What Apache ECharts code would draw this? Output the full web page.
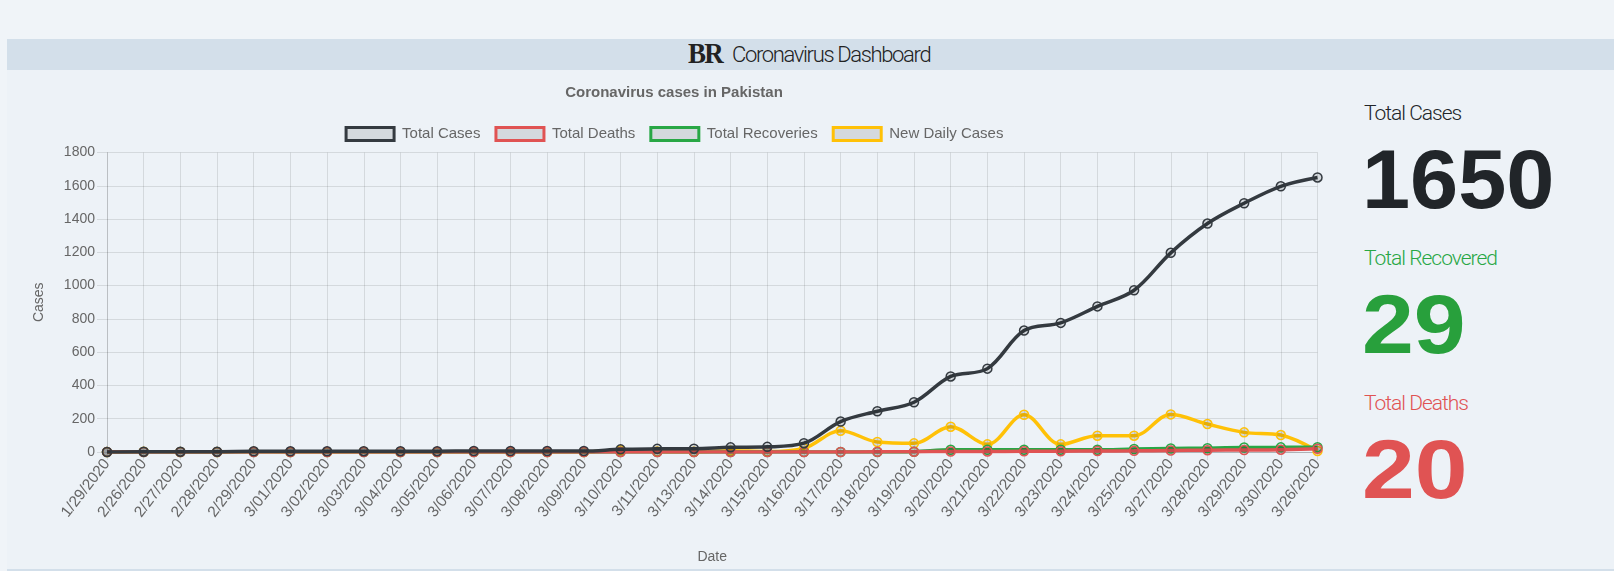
<!DOCTYPE html>
<html>
<head>
<meta charset="utf-8">
<script src="https://cdn.jsdelivr.net/npm/echarts@6/dist/echarts.min.js"></script>
<style>
  html, body { margin: 0; padding: 0; width: 1614px; height: 571px; overflow: hidden; background: #f0f4f8; }
  #header { position: absolute; left: 7px; right: 0; top: 39px; height: 31px; background: #d3dfea; }
  #panel { position: absolute; left: 7px; right: 0; top: 70px; height: 499px; background: #edf2f7; border-bottom: 2px solid #d3dfea; }
  #chart { position: absolute; left: 0; top: 0; width: 1348px; height: 571px; }
  .logo { position: absolute; left: 688px; top: 38px; font-family: "Liberation Serif", serif; font-weight: bold; font-size: 30px; line-height: 30px; color: #222; letter-spacing: -2px; transform: scaleX(0.9); transform-origin: left center; }
  .htitle { position: absolute; left: 732px; top: 44px; font-family: Roboto, sans-serif; font-weight: 300; font-size: 22px; line-height: 22px; color: #222; letter-spacing: -1.35px; white-space: nowrap; }
  .lbl { position: absolute; left: 1364px; font-family: Roboto, sans-serif; font-weight: 300; font-size: 21px; line-height: 21px; letter-spacing: -1px; white-space: nowrap; }
  .num { position: absolute; left: 1362px; font-family: "Liberation Sans", Arial, sans-serif; font-weight: bold; font-size: 84px; line-height: 84px; white-space: nowrap; transform-origin: left center; }
</style>
</head>
<body>
<div id="header"></div>
<div id="panel"></div>
<div class="logo">BR</div>
<div class="htitle">Coronavirus Dashboard</div>
<div id="chart"></div>
<div class="lbl" style="top:103px;color:#212529;">Total Cases</div>
<div class="num" style="top:137px;color:#212529;transform:scaleX(1.03);">1650</div>
<div class="lbl" style="top:248px;color:#28a745;">Total Recovered</div>
<div class="num" style="top:282px;color:#28a03c;transform:scaleX(1.11);">29</div>
<div class="lbl" style="top:393px;color:#e05353;">Total Deaths</div>
<div class="num" style="top:427px;color:#e05353;transform:scaleX(1.13);">20</div>
<script>
const categories = ['1/29/2020','2/26/2020','2/27/2020','2/28/2020','2/29/2020','3/01/2020','3/02/2020','3/03/2020','3/04/2020','3/05/2020','3/06/2020','3/07/2020','3/08/2020','3/09/2020','3/10/2020','3/11/2020','3/13/2020','3/14/2020','3/15/2020','3/16/2020','3/17/2020','3/18/2020','3/19/2020','3/20/2020','3/21/2020','3/22/2020','3/23/2020','3/24/2020','3/25/2020','3/27/2020','3/28/2020','3/29/2020','3/30/2020','3/26/2020'];
const totalCases = [0,2,2,2,4,4,4,5,5,5,6,6,6,6,16,19,20,28,31,53,183,245,299,454,501,730,776,875,972,1197,1373,1495,1597,1650];
const totalDeaths = [0,0,0,0,0,0,0,0,0,0,0,0,0,0,0,0,0,0,0,0,0,1,2,3,3,4,5,6,7,9,11,12,14,20];
const totalRecoveries = [0,0,0,0,0,0,0,0,0,0,0,0,0,0,0,0,0,0,0,0,0,0,2,13,13,13,13,13,18,21,23,27,28,29];
const newDailyCases = [0,2,0,0,2,0,0,1,0,0,1,0,0,0,10,3,1,8,3,22,128,60,52,152,46,224,46,98,98,226,168,118,102,6];
const yTicks = { min: 0, max: 1800, interval: 200 };

const COLORS = { cases: '#343a40', deaths: '#e05353', recov: '#28a745', daily: '#ffc107' };
const FONT = '"Liberation Sans", Arial, sans-serif';

function mk(name, data, color, z) {
  return {
    name: name, type: 'line', data: data, smooth: 0.35, z: z,
    symbol: 'circle', symbolSize: 9, showSymbol: true,
    lineStyle: { color: color, width: 3.5 },
    itemStyle: { color: 'rgba(0,0,0,0.1)', borderColor: color, borderWidth: 1.5 },
    emphasis: { disabled: true }
  };
}

const chart = echarts.init(document.getElementById('chart'), null, { renderer: 'canvas' });
chart.setOption({
  animation: false,
  backgroundColor: 'transparent',
  title: {
    text: 'Coronavirus cases in Pakistan', left: 'center', top: 80,
    textStyle: { fontFamily: FONT, fontSize: 15, fontWeight: 'bold', color: '#666' }
  },
  legend: {
    left: 'center', top: 121, icon: 'rect', itemWidth: 48, itemHeight: 13, itemGap: 14,
    selectedMode: false,
    textStyle: { fontFamily: FONT, fontSize: 15, color: '#666', padding: [0, 0, 0, 3] },
    data: [
      { name: 'Total Cases', itemStyle: { color: 'rgba(0,0,0,0.1)', borderColor: COLORS.cases, borderWidth: 3 } },
      { name: 'Total Deaths', itemStyle: { color: 'rgba(0,0,0,0.1)', borderColor: COLORS.deaths, borderWidth: 3 } },
      { name: 'Total Recoveries', itemStyle: { color: 'rgba(0,0,0,0.1)', borderColor: COLORS.recov, borderWidth: 3 } },
      { name: 'New Daily Cases', itemStyle: { color: 'rgba(0,0,0,0.1)', borderColor: COLORS.daily, borderWidth: 3 } }
    ]
  },
  grid: { left: 107, right: 30.5, top: 152.5, bottom: 119, containLabel: false },
  xAxis: {
    type: 'category', data: categories, boundaryGap: false,
    name: 'Date', nameLocation: 'middle', nameGap: 98,
    nameTextStyle: { fontFamily: FONT, fontSize: 14, color: '#666' },
    axisLine: { lineStyle: { color: 'rgba(0,0,0,0.18)', width: 1 } },
    axisTick: { show: true, length: 8, lineStyle: { color: 'rgba(0,0,0,0.1)' } },
    axisLabel: { rotate: 52, margin: 9, interval: 0, fontFamily: FONT, fontSize: 15.5, color: '#666' },
    splitLine: { show: true, lineStyle: { color: 'rgba(0,0,0,0.1)', width: 1 } }
  },
  yAxis: {
    type: 'value', min: yTicks.min, max: yTicks.max, interval: yTicks.interval,
    name: 'Cases', nameLocation: 'middle', nameGap: 61, nameRotate: 90,
    nameTextStyle: { fontFamily: FONT, fontSize: 14, color: '#666' },
    axisLine: { show: true, lineStyle: { color: 'rgba(0,0,0,0.12)', width: 1 } },
    axisTick: { show: true, length: 10, lineStyle: { color: 'rgba(0,0,0,0.1)' } },
    axisLabel: { margin: 12, fontFamily: FONT, fontSize: 14, color: '#666', formatter: function (v) { return String(v); } },
    splitLine: { show: true, lineStyle: { color: 'rgba(0,0,0,0.1)', width: 1 } }
  },
  series: [
    mk('New Daily Cases', newDailyCases, COLORS.daily, 2),
    mk('Total Recoveries', totalRecoveries, COLORS.recov, 3),
    mk('Total Deaths', totalDeaths, COLORS.deaths, 4),
    mk('Total Cases', totalCases, COLORS.cases, 5)
  ]
});
</script>
</body>
</html>
